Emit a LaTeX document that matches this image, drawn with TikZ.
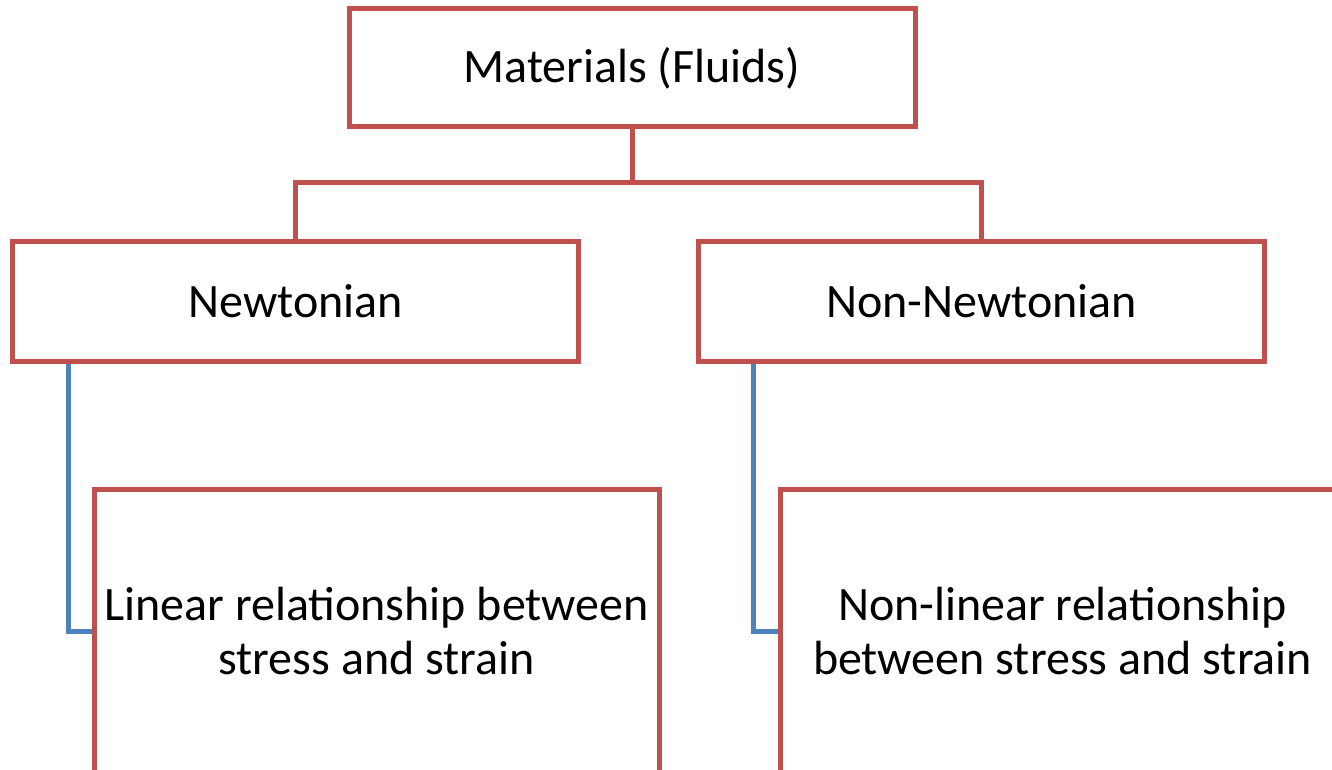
\documentclass[tikz,border=0pt]{standalone}
\usepackage{fontspec}
\setmainfont{Carlito}
\definecolor{boxred}{HTML}{C0504D}
\definecolor{linkblue}{HTML}{4F81BD}
\begin{document}
\begin{tikzpicture}[x=0.75pt,y=-0.75pt,
  box/.style={draw=boxred, line width=3.75pt, fill=white, minimum width=424.5pt, align=center,
    font=\fontsize{36}{41}\selectfont, inner sep=0pt},
  tree/.style={draw=boxred, line width=3.75pt},
  link/.style={draw=linkblue, line width=3.75pt}]
\path[use as bounding box, clip] (0,0) rectangle (1332,770);
\node[box, minimum height=88.5pt] (mat) at (632,68) {Materials (Fluids)};
\node[box, minimum height=89.25pt] (newt) at (295.5,301.5) {Newtonian};
\node[box, minimum height=89.25pt] (nonnewt) at (981.5,301.5) {Non-Newtonian};
\node[box, minimum width=423.75pt, minimum height=213pt] (lin) at (376.5,631) {Linear relationship between\\stress and strain};
\node[box, minimum width=423.75pt, minimum height=213pt] (nonlin) at (1062.5,631) {Non-linear relationship\\between stress and strain};
\coordinate (split) at (632,183);
\draw[tree] (mat.south) -- (split);
\draw[tree] (newt.north) |- (split) -| (nonnewt.north);
\draw[link] ([xshift=43.5pt]newt.south west) |- (lin.west);
\draw[link] ([xshift=42.75pt]nonnewt.south west) |- (nonlin.west);
\end{tikzpicture}
\end{document}
